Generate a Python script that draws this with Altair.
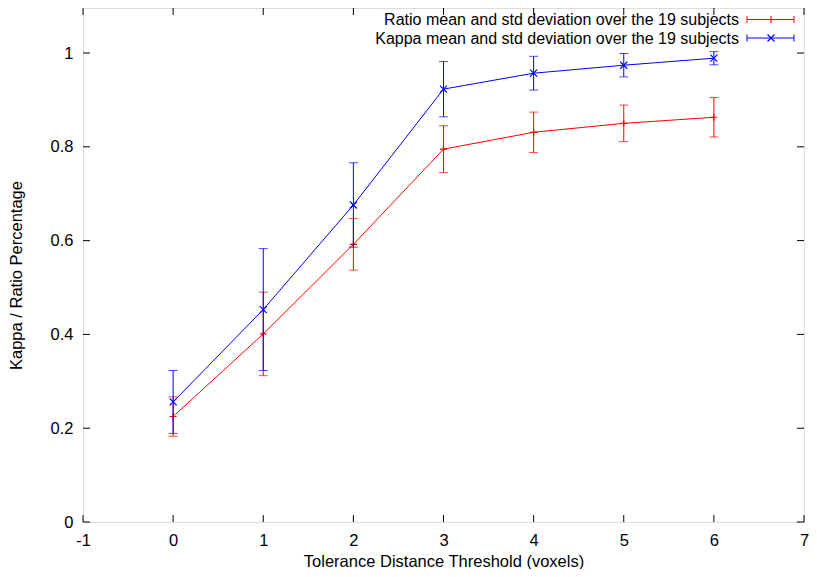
import altair as alt
import pandas as pd

# ---- data ----
thresholds = [0, 1, 2, 3, 4, 5, 6]
ratio_mean = [0.225, 0.401, 0.592, 0.795, 0.831, 0.850, 0.863]
ratio_std = [0.042, 0.089, 0.055, 0.050, 0.043, 0.039, 0.042]
kappa_mean = [0.256, 0.453, 0.676, 0.923, 0.957, 0.974, 0.989]
kappa_std = [0.067, 0.130, 0.090, 0.059, 0.036, 0.025, 0.014]
series_names = [
    "Ratio mean and std deviation over the 19 subjects",
    "Kappa mean and std deviation over the 19 subjects",
]
series_colors = ["#ff0000", "#0000ff"]
x_ticks = [-1, 0, 1, 2, 3, 4, 5, 6, 7]
y_ticks = [0, 0.2, 0.4, 0.6, 0.8, 1.0]

W, H = 721, 514
FONT = "Liberation Sans"
FS = 16.5
LFS = 16
TICK = 7

PLUS = "M-1,0H1M0,-1V1"
CROSS = "M-1,-1L1,1M-1,1L1,-1"
shapes = [PLUS, CROSS]

xscale = alt.Scale(domain=[-1, 7], nice=False, zero=False)
yscale = alt.Scale(domain=[0, 1.096], nice=False, zero=False)

xaxis = alt.Axis(values=x_ticks, labelExpr="'' + datum.value", labelFlush=False,
                 ticks=False, tickSize=0, domain=False, grid=False,
                 labelPadding=10, labelFontSize=FS, labelFont=FONT, labelColor="black",
                 title="Tolerance Distance Threshold (voxels)", titleFontSize=FS, titleFont=FONT,
                 titleFontWeight="normal", titleColor="black", titleY=44, titleBaseline="alphabetic")
yaxis = alt.Axis(values=y_ticks, labelExpr="'' + datum.value", labelFlush=False,
                 ticks=False, tickSize=0, domain=False, grid=False,
                 labelPadding=10, labelFontSize=FS, labelFont=FONT, labelColor="black",
                 title="Kappa / Ratio Percentage", titleFontSize=FS, titleFont=FONT,
                 titleFontWeight="normal", titleColor="black", titleAngle=270,
                 titleX=-62, titleY=267, titleBaseline="alphabetic", titleAlign="center")

X = alt.X("x:Q", scale=xscale, axis=xaxis)
Y = alt.Y("y:Q", scale=yscale, axis=yaxis)

layers = []

# tick marks (inward, on all four sides)
xt = pd.DataFrame({"x": x_ticks})
yt = pd.DataFrame({"y": y_ticks})
layers.append(alt.Chart(xt).mark_rule(color="black", strokeWidth=1).encode(
    x=X, y=alt.value(H), y2=alt.value(H - TICK)))
layers.append(alt.Chart(xt).mark_rule(color="black", strokeWidth=1).encode(
    x=X, y=alt.value(0), y2=alt.value(TICK)))
layers.append(alt.Chart(yt).mark_rule(color="black", strokeWidth=1).encode(
    y=Y, x=alt.value(0), x2=alt.value(TICK)))
layers.append(alt.Chart(yt).mark_rule(color="black", strokeWidth=1).encode(
    y=Y, x=alt.value(W), x2=alt.value(W - TICK)))

series = [(ratio_mean, ratio_std), (kappa_mean, kappa_std)]
legend_line_y = [11.5, 30.0]
legend_text_y = [17.2, 35.7]

for i, (m, s) in enumerate(series):
    col = series_colors[i]
    df = pd.DataFrame({
        "x": thresholds,
        "y": m,
        "lo": [a - b for a, b in zip(m, s)],
        "hi": [a + b for a, b in zip(m, s)],
    })
    base = alt.Chart(df)
    layers.append(base.mark_line(color=col, strokeWidth=1).encode(x=X, y=Y))
    layers.append(base.mark_rule(color=col, strokeWidth=1).encode(
        x=X, y=alt.Y("lo:Q", scale=yscale, axis=yaxis), y2="hi:Q"))
    layers.append(base.mark_tick(color=col, orient="horizontal", size=9, thickness=1).encode(
        x=X, y=alt.Y("lo:Q", scale=yscale, axis=yaxis)))
    layers.append(base.mark_tick(color=col, orient="horizontal", size=9, thickness=1).encode(
        x=X, y=alt.Y("hi:Q", scale=yscale, axis=yaxis)))
    layers.append(base.mark_point(shape=shapes[i], size=49, filled=False, color=col,
                                  strokeWidth=1.2, opacity=1).encode(x=X, y=Y))

    # key entry (gnuplot style: text left of sample)
    ldf = pd.DataFrame({"name": [series_names[i]]})
    lb = alt.Chart(ldf)
    ly = legend_line_y[i]
    layers.append(lb.mark_text(align="right", baseline="alphabetic", font=FONT, fontSize=LFS,
                               color="black").encode(
        text="name:N", x=alt.value(656), y=alt.value(legend_text_y[i])))
    layers.append(lb.mark_rule(color=col, strokeWidth=1).encode(
        x=alt.value(664), x2=alt.value(711), y=alt.value(ly)))
    layers.append(lb.mark_rule(color=col, strokeWidth=1).encode(
        x=alt.value(664), y=alt.value(ly - 3.5), y2=alt.value(ly + 3.5)))
    layers.append(lb.mark_rule(color=col, strokeWidth=1).encode(
        x=alt.value(711), y=alt.value(ly - 3.5), y2=alt.value(ly + 3.5)))
    layers.append(lb.mark_point(shape=shapes[i], size=49, filled=False, color=col,
                                strokeWidth=1.2, opacity=1).encode(
        x=alt.value(688), y=alt.value(ly)))

chart = alt.layer(*layers).properties(
    width=W, height=H,
    autosize=alt.AutoSizeParams(type="none"),
    padding={"left": 75, "top": 0, "right": 5, "bottom": 47},
).configure_view(stroke="black", strokeWidth=1).configure(font=FONT)

chart.save("out.html", embed_options={"renderer": "svg", "actions": False})
